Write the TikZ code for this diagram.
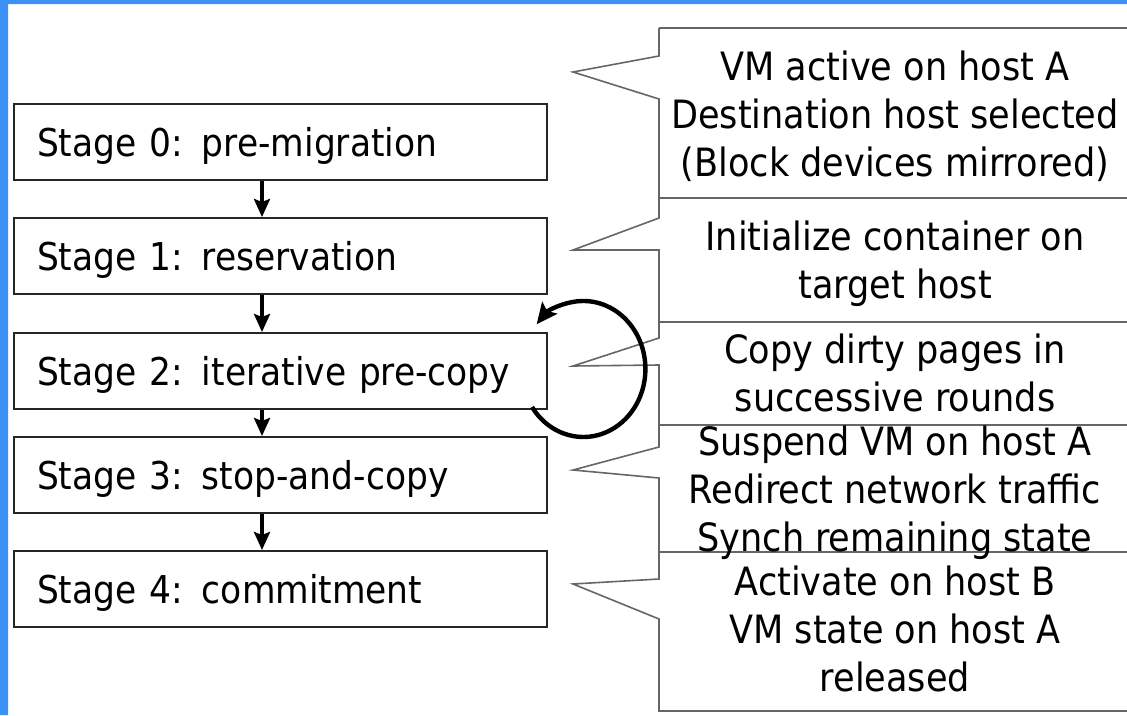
\documentclass[tikz,border=0pt]{standalone}
\usepackage{fontspec}
\setmainfont{DejaVu Sans Condensed}
\usetikzlibrary{arrows.meta}
\definecolor{slideblue}{RGB}{60,145,245}
\tikzset{
  stagebox/.style={draw=black!85, line width=2pt, rectangle, anchor=north west,
    minimum height=76pt, text width=487pt, inner xsep=23pt, inner ysep=0pt,
    text height=28pt, text depth=0pt, align=left,
    font=\fontsize{38.3}{48}\selectfont},
  note/.style={align=center, inner sep=0pt, font=\fontsize{39}{48}\selectfont},
  bubble/.style={draw=black!60, line width=1.6pt, line join=miter},
  flow/.style={line width=3.6pt, -{Stealth[length=18pt,width=16pt,inset=3pt]}},
  loopflow/.style={line width=4.4pt, -{Stealth[length=21pt,width=19pt,inset=4pt]}}
}
\begin{document}
\begin{tikzpicture}[x=1pt,y=-1pt]
\useasboundingbox (0,0) rectangle (1127,715);
\clip (0,0) rectangle (1127,715);
\fill[white] (0,0) rectangle (1127,715);
\fill[slideblue] (0,0) rectangle (8,715)
                 (0,0) rectangle (1127,4);
% callouts, open to the right
\draw[bubble] (659,28) -- (659,56) -- (573,72) -- (659,99) -- (659,198) -- (1140,198);
\draw[bubble] (1140,28) -- (659,28);
\draw[bubble] (659,198) -- (659,218) -- (573,250) -- (659,250) -- (659,322) -- (1140,322);
\draw[bubble] (659,322) -- (659,338) -- (573,366) -- (659,365) -- (659,425) -- (1140,425);
\draw[bubble] (659,425) -- (659,447) -- (573,470) -- (659,478) -- (659,552) -- (1140,552);
\draw[bubble] (659,552) -- (659,579) -- (573,584) -- (659,619) -- (659,711) -- (1140,711);
\node[note] (n0) at (895,116) {VM active on host A\\Destination host selected\\(Block devices mirrored)};
\node[note] (n1) at (895,264) {Initialize container on\\target host};
\node[note] (n2) at (895,373) {Copy dirty pages in\\successive rounds};
\node[note] (n3) at (895,493) {Suspend VM on host A\\Redirect network traffic\\Synch remaining state};
\node[note] (n4) at (895,629) {Activate on host B\\VM state on host A\\released};
% stages
\node[stagebox] (s0) at (13,103) {Stage 0: pre-migration};
\node[stagebox] (s1) at (13,217) {Stage 1: reservation};
\node[stagebox] (s2) at (13,332) {Stage 2: iterative pre-copy};
\node[stagebox] (s3) at (13,436) {Stage 3: stop-and-copy};
\node[stagebox] (s4) at (13,550) {Stage 4: commitment};
\foreach \a/\b in {s0/s1, s1/s2, s2/s3, s3/s4}
  \draw[flow] ([xshift=-18.5pt]\a.south) -- ([xshift=-18.5pt]\b.north);
\draw[loopflow] ([shift={(-16,-3)}]s2.south east)
  arc[start angle=146, end angle=-139, x radius=62, y radius=68];
\end{tikzpicture}
\end{document}
